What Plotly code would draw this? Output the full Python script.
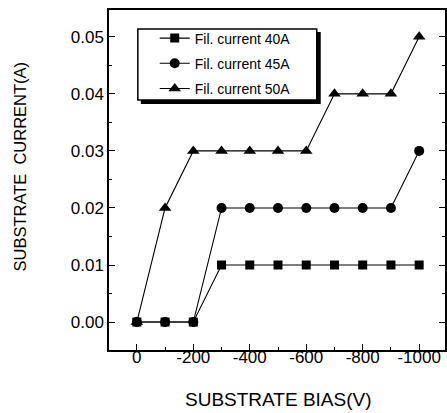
import plotly.graph_objects as go

bias = [0, -100, -200, -300, -400, -500, -600, -700, -800, -900, -1000]
cur_40 = [0.00, 0.00, 0.00, 0.01, 0.01, 0.01, 0.01, 0.01, 0.01, 0.01, 0.01]
cur_45 = [0.00, 0.00, 0.00, 0.02, 0.02, 0.02, 0.02, 0.02, 0.02, 0.02, 0.03]
cur_50 = [0.00, 0.02, 0.03, 0.03, 0.03, 0.03, 0.03, 0.04, 0.04, 0.04, 0.05]
x_ticks = [0, -200, -400, -600, -800, -1000]
x_ticktext = ["0", "-200", "-400", "-600", "-800", "-1000"]
y_ticks = [0, 0.01, 0.02, 0.03, 0.04, 0.05]
y_ticktext = ["0.00", "0.01", "0.02", "0.03", "0.04", "0.05"]
names = ["Fil. current 40A", "Fil. current 45A", "Fil. current 50A"]
symbols = ["square", "circle", "triangle-up"]
msizes = [9, 10, 11]
series = [cur_40, cur_45, cur_50]

W, H = 447, 413
L, R, T, B = 109, 0, 10, 63
pw, ph = W - L - R, H - T - B
XRANGE = [98.6, -1091.5]

def px(x):
    return (x - L) / pw

def py(y):
    return (H - B - y) / ph

fig = go.Figure()
for i, (nm, ys) in enumerate(zip(names, series)):
    fig.add_trace(go.Scatter(
        x=bias, y=ys, name=nm, mode="lines+markers",
        line=dict(color="black", width=1.1),
        marker=dict(symbol=symbols[i], size=msizes[i], color="black"),
        legendgroup=str(i),
    ))
# invisible trace on a label-only axis so its tick labels sit closer to the frame
fig.add_trace(go.Scatter(x=[bias[0]], y=[cur_40[0]], xaxis="x2", mode="markers",
                         marker=dict(opacity=0), showlegend=False, hoverinfo="skip"))

font = "Liberation Sans, Arial, sans-serif"

# legend box with shadow
fig.add_shape(type="rect", xref="paper", yref="paper",
              x0=px(141), x1=px(322), y0=py(104), y1=py(32),
              fillcolor="black", line=dict(width=0), layer="below")
fig.add_shape(type="rect", xref="paper", yref="paper",
              x0=px(138), x1=px(318), y0=py(100), y1=py(29),
              fillcolor="white", line=dict(color="black", width=1.5), layer="below")

fig.add_annotation(text="SUBSTRATE BIAS(V)", xref="paper", yref="paper",
                   x=px(280), y=py(399), showarrow=False,
                   xanchor="center", yanchor="middle", font=dict(size=19))
fig.add_annotation(text="SUBSTRATE  CURRENT(A)", xref="paper", yref="paper",
                   x=px(19), y=py(167), showarrow=False, textangle=-90,
                   xanchor="center", yanchor="middle", font=dict(size=16.5))

fig.update_layout(
    width=W, height=H,
    margin=dict(l=L, r=R, t=T, b=B),
    paper_bgcolor="white", plot_bgcolor="white",
    font=dict(family=font, color="black"),
    showlegend=True,
    legend=dict(x=px(155), y=py(22.5), xanchor="left", yanchor="top",
                bgcolor="rgba(0,0,0,0)", borderwidth=0,
                font=dict(size=14, family=font),
                tracegroupgap=4, itemwidth=30),
    xaxis=dict(
        range=XRANGE,
        tickvals=x_ticks,
        showticklabels=False,
        ticks="inside", ticklen=6, tickwidth=1.2, tickcolor="black",
        minor=dict(tickvals=[-100, -300, -500, -700, -900], ticks="inside", ticklen=3, tickcolor="black"),
        showline=True, linecolor="black", linewidth=1.5, mirror=True,
        showgrid=False, zeroline=False,
    ),
    xaxis2=dict(
        range=XRANGE, overlaying="x", side="bottom", anchor="free", position=5 / ph,
        tickvals=x_ticks, ticktext=x_ticktext,
        ticks="", showline=False, showgrid=False, zeroline=False,
        tickfont=dict(size=17),
    ),
    yaxis=dict(
        range=[-0.0049, 0.0547],
        tickvals=y_ticks,
        ticktext=y_ticktext,
        ticks="inside", ticklen=6, tickwidth=1.2, tickcolor="black",
        minor=dict(tickvals=[0.005, 0.015, 0.025, 0.035, 0.045], ticks="inside", ticklen=3, tickcolor="black"),
        showline=True, linecolor="black", linewidth=1.5, mirror="ticks",
        showgrid=False, zeroline=False,
        tickfont=dict(size=17),
    ),
)

fig.write_html("out.html")
